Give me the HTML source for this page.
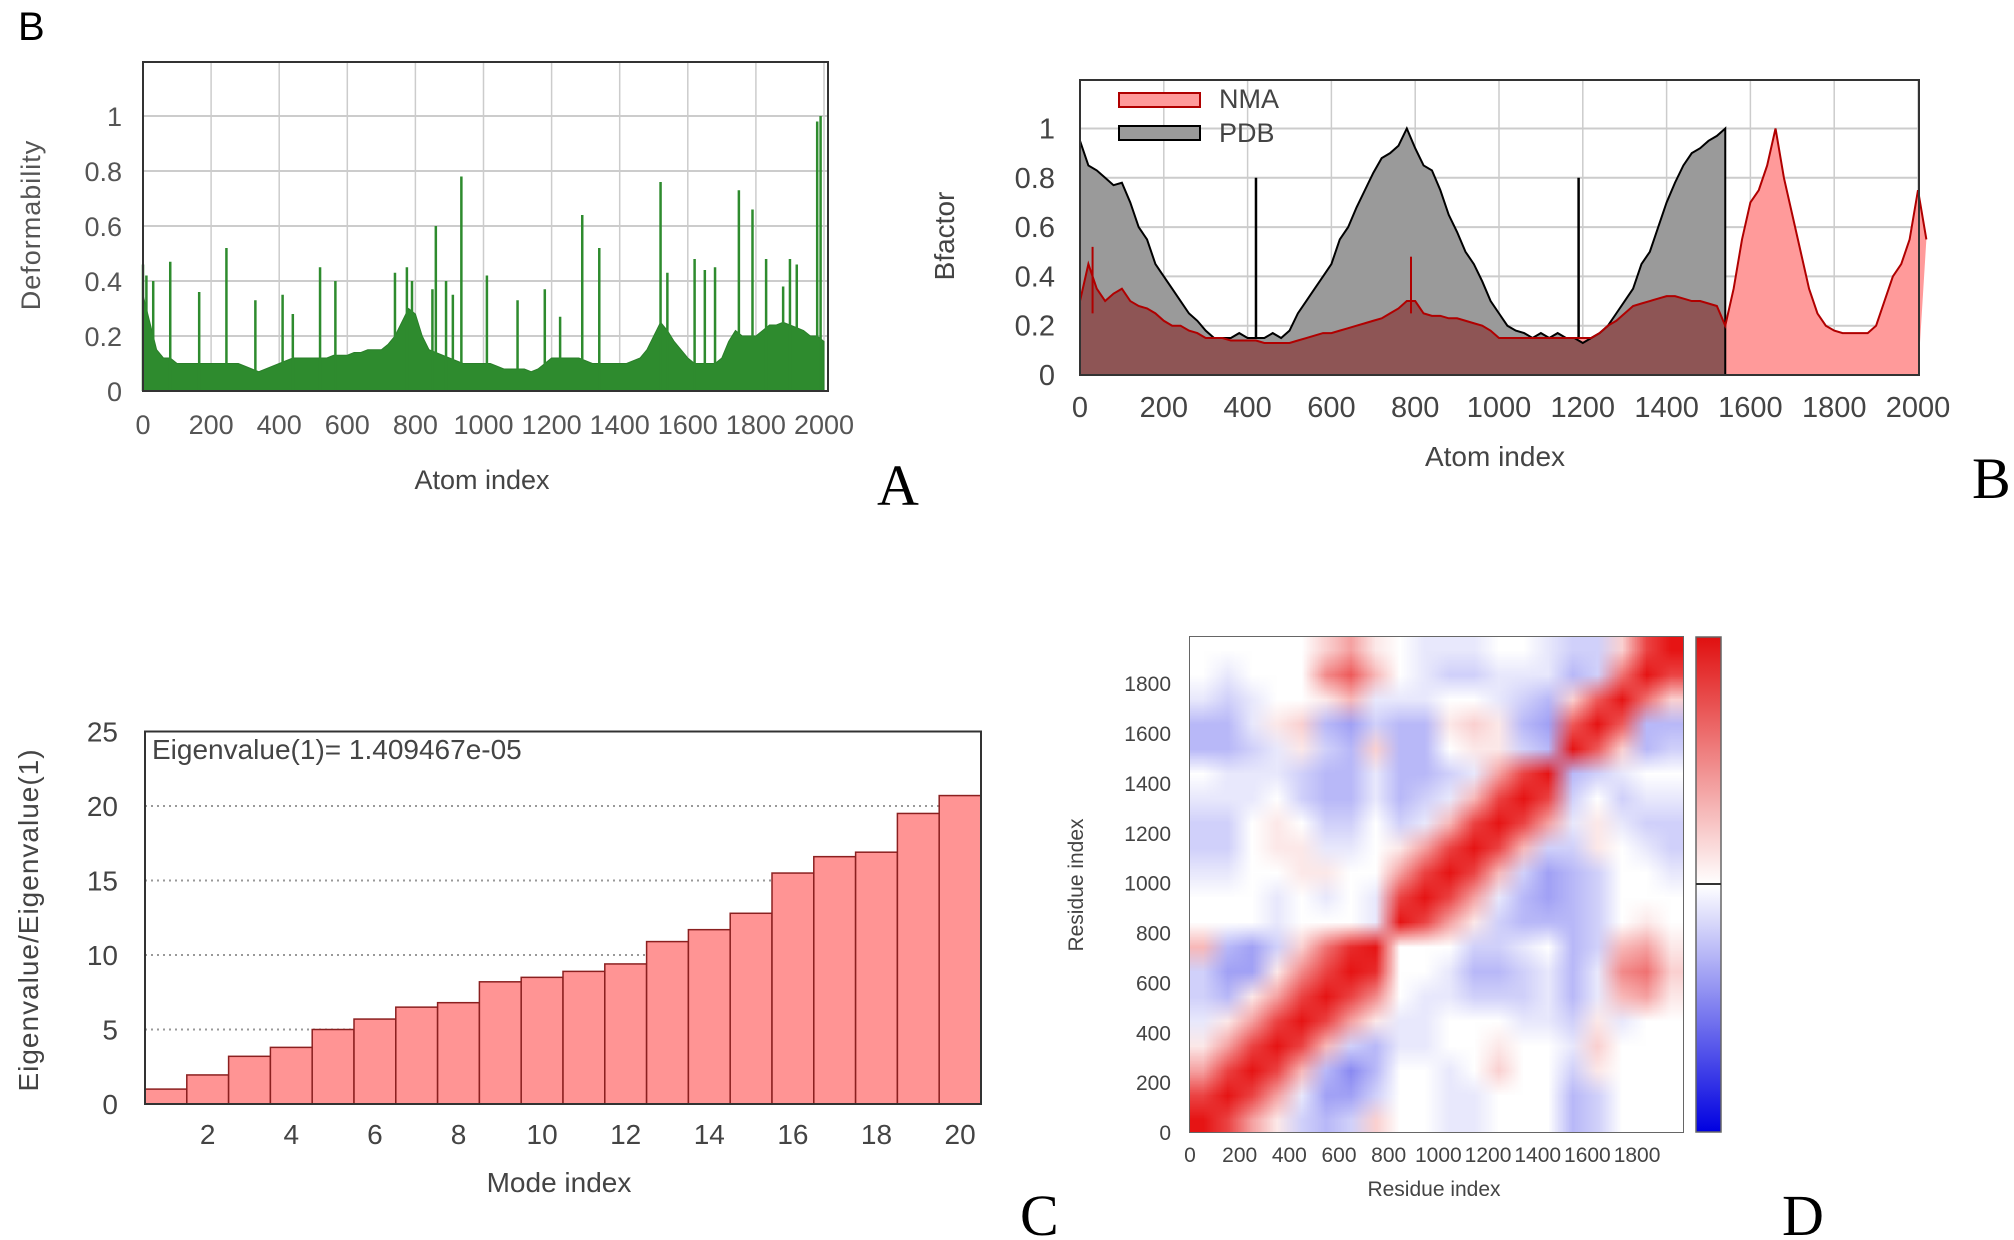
<!DOCTYPE html>
<html><head><meta charset="utf-8"><style>
html,body{margin:0;padding:0;background:#fff;}
#wrap{position:relative;width:2014px;height:1240px;overflow:hidden;}
svg{position:absolute;left:0;top:0;}
text{font-family:"Liberation Sans",sans-serif;}
#hm{position:absolute;left:1190px;top:637px;width:493px;height:495px;}
</style></head><body>
<div id="wrap">
<svg id="svg" width="2014" height="1240"></svg>
<canvas id="hm" width="20" height="20"></canvas>
</div>
<script>
// ---- Panel A data ----
const defBase = [.35,.25,.15,.12,.12,.1,.1,.1,.1,.1,.1,.1,.1,.1,.1,.09,.08,.07,.08,.09,.1,.11,.12,.12,.12,.12,.12,.12,.13,.13,.13,.14,.14,.15,.15,.15,.17,.2,.25,.3,.28,.2,.15,.14,.13,.12,.11,.1,.1,.1,.1,.1,.09,.08,.08,.08,.08,.07,.08,.1,.12,.12,.12,.12,.12,.11,.1,.1,.1,.1,.1,.1,.11,.12,.15,.2,.25,.22,.18,.15,.12,.1,.1,.1,.1,.12,.18,.22,.2,.2,.2,.22,.24,.24,.25,.24,.23,.22,.2,.2,.18];
const defSpikeX = [0,10,30,80,165,245,330,410,440,520,565,740,775,790,850,860,890,910,935,1010,1100,1180,1225,1290,1340,1520,1540,1620,1650,1680,1750,1790,1830,1880,1900,1920,1980,1990];
const defSpikeY = [.46,.42,.4,.47,.36,.52,.33,.35,.28,.45,.4,.43,.45,.4,.37,.6,.4,.35,.78,.42,.33,.37,.27,.64,.52,.76,.43,.48,.44,.45,.73,.66,.48,.38,.48,.46,.98,1.0];
const axTicksA = [0,200,400,600,800,1000,1200,1400,1600,1800,2000];
const ayTicksA = [0,0.2,0.4,0.6,0.8,1];
// ---- Panel B data ----
const pdbVals = [.95,.85,.83,.8,.77,.78,.7,.6,.55,.45,.4,.35,.3,.25,.22,.18,.15,.15,.15,.17,.15,.15,.15,.17,.15,.18,.25,.3,.35,.4,.45,.55,.6,.68,.75,.82,.88,.9,.93,1.0,.92,.85,.83,.75,.65,.58,.5,.45,.38,.3,.25,.2,.18,.17,.15,.17,.15,.17,.15,.15,.13,.15,.17,.2,.25,.3,.35,.45,.5,.6,.7,.78,.85,.9,.92,.95,.97,1.0];
const pdbSpikeX = [420,1190];
const pdbSpikeY = [.8,.8];
const nmaVals = [.3,.45,.35,.3,.33,.35,.3,.28,.27,.25,.22,.2,.2,.18,.17,.15,.15,.15,.14,.14,.14,.14,.13,.13,.13,.13,.14,.15,.16,.17,.17,.18,.19,.2,.21,.22,.23,.25,.27,.3,.3,.25,.24,.24,.23,.23,.22,.21,.2,.18,.15,.15,.15,.15,.15,.15,.15,.15,.15,.15,.15,.15,.17,.2,.22,.25,.28,.29,.3,.31,.32,.32,.31,.3,.3,.29,.28,.2,.35,.55,.7,.75,.85,1.0,.8,.65,.5,.35,.25,.2,.18,.17,.17,.17,.17,.2,.3,.4,.45,.55,.75,.55];
const nmaSpikeX = [30,790];
const nmaSpikeY = [.52,.48];
const bxTicks = [0,200,400,600,800,1000,1200,1400,1600,1800,2000];
const byTicks = [0,0.2,0.4,0.6,0.8,1];
// ---- Panel C data ----
const modes = [1,2,3,4,5,6,7,8,9,10,11,12,13,14,15,16,17,18,19,20];
const eigRatio = [1.0,1.95,3.2,3.8,5.0,5.7,6.5,6.8,8.2,8.5,8.9,9.4,10.9,11.7,12.8,15.5,16.6,16.9,19.5,20.7];
const cxTicks = [2,4,6,8,10,12,14,16,18,20];
const cyTicks = [0,5,10,15,20,25];
// ---- Panel D data (rows from residue 0 upward, bins of 100) ----
const corr = [
[1,.8,.4,.1,-.2,-.3,-.2,.2,0,0,-.1,-.1,0,0,0,-.3,-.2,0,0,0],
[.8,1,.8,.4,-.1,-.4,-.4,-.2,0,0,-.1,-.1,0,0,0,-.3,-.2,0,0,0],
[.4,.8,1,.8,.3,-.3,-.5,-.3,0,0,-.1,0,.2,0,0,-.2,.1,0,0,0],
[.1,.4,.8,1,.8,.3,-.2,-.3,-.1,-.1,0,0,.1,0,0,-.1,.2,0,0,0],
[-.1,.1,.4,.8,1,.8,.4,.1,-.1,-.1,0,0,0,-.1,-.1,-.2,.1,-.1,0,0],
[-.2,-.3,.1,.4,.8,1,.8,.5,0,-.1,-.1,-.2,-.2,-.2,-.1,-.3,-.1,.3,.4,.1],
[-.2,-.4,-.4,.1,.5,.8,1,.9,0,0,-.1,-.3,-.3,-.2,-.1,-.3,-.1,.5,.6,.2],
[.3,-.3,-.4,-.2,.2,.6,.9,1,0,0,0,-.2,-.2,-.1,0,-.3,-.2,.3,.4,.1],
[0,0,0,-.1,0,0,0,-.1,1,.8,.4,.1,-.2,-.3,-.3,-.3,-.2,0,.1,0],
[0,0,0,-.1,0,-.1,0,-.1,.8,1,.8,.4,-.1,-.3,-.4,-.3,-.2,0,0,0],
[-.1,-.1,0,0,.1,.1,0,0,.4,.8,1,.8,.3,-.2,-.4,-.3,-.2,0,0,-.1],
[-.2,-.2,0,.1,.1,-.1,-.1,0,.1,.4,.8,1,.8,.3,-.2,-.2,.1,0,-.1,-.2],
[-.2,-.2,0,.1,0,-.2,-.2,0,-.2,-.1,.3,.8,1,.8,.4,-.1,.1,-.1,-.2,-.2],
[-.1,-.1,-.1,0,-.2,-.3,-.3,-.1,-.3,-.2,-.1,.3,.8,1,.8,-.2,0,-.2,-.1,-.1],
[0,-.1,-.1,-.1,-.2,-.3,-.3,-.1,-.3,-.3,-.2,-.1,.4,.8,1,-.3,-.2,-.1,0,0],
[-.3,-.3,-.2,-.1,.1,-.2,-.3,.2,-.3,-.3,0,.1,.1,-.2,-.3,1,.7,.2,-.3,-.2],
[-.3,-.3,-.1,.1,.2,-.3,-.4,-.2,-.3,-.3,.1,.2,.1,-.3,-.4,.7,1,.7,-.3,-.3],
[-.1,-.2,-.1,0,0,.1,.3,-.1,-.1,-.1,0,0,-.1,-.2,-.3,.2,.7,1,.6,.2],
[0,-.1,0,0,0,.5,.7,.3,0,-.1,-.2,-.2,-.1,-.1,-.1,-.3,-.2,.6,1,.8],
[0,0,0,0,0,.2,.4,.1,0,-.1,-.1,-.1,0,0,-.1,-.2,-.2,.2,.8,1]];
const dTicks = [0,200,400,600,800,1000,1200,1400,1600,1800];

const NS="http://www.w3.org/2000/svg";
const svg=document.getElementById('svg');
function mk(tag,attrs,parent){const e=document.createElementNS(NS,tag);for(const k in attrs)e.setAttribute(k,attrs[k]);(parent||svg).appendChild(e);return e;}
function txt(s,x,y,attrs,parent){const e=mk('text',Object.assign({x:x,y:y},attrs),parent);e.textContent=s;return e;}
function g(name){const e=mk('g',{});return e;}

const SERIF='font-family:"Liberation Serif",serif';
let L;
L=txt('B',18,40,{'font-size':40,fill:'#000'});
L=txt('A',877,505,{'font-size':58,style:SERIF,fill:'#000'});
L=txt('B',1972,498,{'font-size':58,style:SERIF,fill:'#000'});
L=txt('C',1020,1235,{'font-size':58,style:SERIF,fill:'#000'});
L=txt('D',1782,1235,{'font-size':58,style:SERIF,fill:'#000'});

// ===== Panel A =====
(function(){
 const x0=143,x1=828,yb=391,yt=62;
 const X=v=>x0+(v/2000)*(824-143);
 const Y=v=>yb-v*275;
 const G=g('deformability-chart');
 axTicksA.forEach(t=>{const l=mk('line',{x1:X(t),x2:X(t),y1:yt,y2:yb,stroke:'#ccc','stroke-width':1.5},G);
   const tl=txt(String(t),X(t),434,{'font-size':27,fill:'#555','text-anchor':'middle'},G);});
 ayTicksA.forEach(t=>{const l=mk('line',{x1:x0,x2:x1,y1:Y(t),y2:Y(t),stroke:'#ccc','stroke-width':2},G);
   const tl=txt(String(t),122,Y(t)+10,{'font-size':27,fill:'#555','text-anchor':'end'},G);});
 let d='M'+X(0)+','+Y(0);
 defBase.forEach((v,i)=>{d+=' L'+X(i*20)+','+Y(v);});
 d+=' L'+X(2000)+','+Y(0)+' Z';
 const a=mk('path',{d:d,fill:'#2e8b2e',stroke:'#2a7f2a','stroke-width':1},G);
 defSpikeX.forEach((sx,i)=>{const s=mk('line',{x1:X(sx),x2:X(sx),y1:Y(0),y2:Y(defSpikeY[i]),stroke:'#2e8b2e','stroke-width':2.5},G);});
 const r=mk('rect',{x:x0,y:yt,width:x1-x0,height:yb-yt,fill:'none',stroke:'#333','stroke-width':2},G);
 const xt=txt('Atom index',482,489,{'font-size':27,fill:'#444','text-anchor':'middle'},G);
 const yl=txt('Deformability',0,0,{'font-size':27,fill:'#555','text-anchor':'middle','letter-spacing':1,transform:'translate(40,225) rotate(-90)'},G);
})();

// ===== Panel B =====
(function(){
 const x0=1080,x1=1919,yb=375,yt=80;
 const X=v=>x0+(v/2000)*(1918-1080);
 const Y=v=>yb-v*246.5;
 const G=g('bfactor-chart');
 bxTicks.forEach(t=>{const l=mk('line',{x1:X(t),x2:X(t),y1:yt,y2:yb,stroke:'#ccc','stroke-width':1.5},G);
   const tl=txt(String(t),X(t),417,{'font-size':29,fill:'#444','text-anchor':'middle'},G);});
 byTicks.forEach(t=>{const l=mk('line',{x1:x0,x2:x1,y1:Y(t),y2:Y(t),stroke:'#ccc','stroke-width':2},G);
   const tl=txt(String(t),1055,Y(t)+10,{'font-size':29,fill:'#444','text-anchor':'end'},G);});
 let pl='';pdbVals.forEach((v,i)=>{pl+=(i?' L':'M')+X(i*20)+','+Y(v);});
 const pdbArea='M'+X(0)+','+Y(0)+' '+pl.replace('M','L')+' L'+X(1540)+','+Y(0)+' Z';
 let nl='';nmaVals.forEach((v,i)=>{nl+=(i?' L':'M')+X(i*20)+','+Y(v);});
 const nmaArea='M'+X(0)+','+Y(0)+' '+nl.replace('M','L')+' L'+X(2000)+','+Y(0)+' Z';
 const defs=mk('defs',{},G);const cp=mk('clipPath',{id:'pdbclip'},defs);mk('path',{d:pdbArea},cp);
 const pa=mk('path',{d:pdbArea,fill:'#9a9a9a'},G);
 const na=mk('path',{d:nmaArea,fill:'#ff9a9a'},G);
 const ov=mk('path',{d:nmaArea,fill:'#8e5555','clip-path':'url(#pdbclip)'},G);
 const pln=mk('path',{d:pl+' L'+X(1540)+','+Y(0),fill:'none',stroke:'#000','stroke-width':2},G);
 pdbSpikeX.forEach((sx,i)=>{const s=mk('line',{x1:X(sx),x2:X(sx),y1:Y(0.15),y2:Y(pdbSpikeY[i]),stroke:'#000','stroke-width':2.5},G);});
 const nln=mk('path',{d:nl,fill:'none',stroke:'#b00000','stroke-width':2},G);
 nmaSpikeX.forEach((sx,i)=>{const s=mk('line',{x1:X(sx),x2:X(sx),y1:Y(0.25),y2:Y(nmaSpikeY[i]),stroke:'#b00000','stroke-width':2},G);});
 const r=mk('rect',{x:x0,y:yt,width:x1-x0,height:yb-yt,fill:'none',stroke:'#333','stroke-width':2},G);
 let e=mk('rect',{x:1119,y:93,width:81,height:14,fill:'#ff9a9a',stroke:'#b00000','stroke-width':2},G);
 e=txt('NMA',1219,108,{'font-size':27,fill:'#444'},G);
 e=mk('rect',{x:1119,y:126,width:81,height:14,fill:'#9a9a9a',stroke:'#000','stroke-width':2},G);
 e=txt('PDB',1219,142,{'font-size':27,fill:'#444'},G);
 e=txt('Atom index',1495,466,{'font-size':28,fill:'#444','text-anchor':'middle'},G);
 e=txt('Bfactor',0,0,{'font-size':28,fill:'#444','text-anchor':'middle',transform:'translate(954,236) rotate(-90)'},G);
})();

// ===== Panel C =====
(function(){
 const x0=145,x1=981,yb=1104,yt=731.5;
 const X=v=>x0+(v-0.5)*(x1-x0)/20;
 const Y=v=>yb-v*14.9;
 const G=g('eigenvalue-chart');
 cyTicks.forEach(t=>{if(t>0&&t<25){const l=mk('line',{x1:x0,x2:x1,y1:Y(t),y2:Y(t),stroke:'#999','stroke-width':2,'stroke-dasharray':'2,4'},G);}
   const tl=txt(String(t),118,Y(t)+10,{'font-size':28,fill:'#444','text-anchor':'end'},G);});
 modes.forEach((m,i)=>{const b=mk('rect',{x:X(m-0.5),y:Y(eigRatio[i]),width:X(m+0.5)-X(m-0.5),height:Y(0)-Y(eigRatio[i]),fill:'#ff9494',stroke:'#8b2020','stroke-width':1.5},G);});
 cxTicks.forEach(t=>{const tl=txt(String(t),X(t),1144,{'font-size':28,fill:'#444','text-anchor':'middle'},G);});
 const r=mk('rect',{x:x0,y:yt,width:x1-x0,height:yb-yt,fill:'none',stroke:'#333','stroke-width':2},G);
 let e=txt('Eigenvalue(1)= 1.409467e-05',152,759,{'font-size':28,fill:'#444'},G);
 e=txt('Mode index',559,1192,{'font-size':28,fill:'#444','text-anchor':'middle'},G);
 e=txt('Eigenvalue/Eigenvalue(1)',0,0,{'font-size':28,fill:'#444','text-anchor':'middle','letter-spacing':1,transform:'translate(38,920) rotate(-90)'},G);
})();

// ===== Panel D =====
(function(){
 const x0=1190,x1=1683,yt=637,yb=1132,N=1985;
 const X=v=>x0+v*(x1-x0)/N;
 const Y=v=>yb-v*(yb-yt)/N;
 const G=g('correlation-chart');
 const cv=document.getElementById('hm');const ctx=cv.getContext('2d');
 const img=ctx.createImageData(20,20);
 function col(v){if(v>=0)return [255-v*25,255-v*235,255-v*235];const a=-v;return [255-a*235,255-a*235,255-a*25];}
 corr.forEach((row,ri)=>row.forEach((v,ci)=>{const c=col(v);const p=((19-ri)*20+ci)*4;img.data[p]=c[0];img.data[p+1]=c[1];img.data[p+2]=c[2];img.data[p+3]=255;}));
 ctx.putImageData(img,0,0);
 cv.style.imageRendering='auto';
 const r=mk('rect',{x:x0,y:yt,width:x1-x0,height:yb-yt,fill:'none',stroke:'#666','stroke-width':2},G);
 dTicks.forEach(t=>{let e=txt(String(t),1171,Y(t)+8,{'font-size':21,fill:'#444','text-anchor':'end'},G);
   e=txt(String(t),X(t),1162,{'font-size':21,fill:'#444','text-anchor':'middle'},G);});
 const defs=mk('defs',{},G);const lg=mk('linearGradient',{id:'cbar',x1:0,y1:0,x2:0,y2:1},defs);
 mk('stop',{offset:'0',  'stop-color':'#e01010'},lg);mk('stop',{offset:'0.5','stop-color':'#ffffff'},lg);mk('stop',{offset:'1','stop-color':'#0000e0'},lg);
 let e=mk('rect',{x:1696,y:yt,width:25,height:yb-yt,fill:'url(#cbar)',stroke:'#666','stroke-width':1.5},G);
 e=mk('line',{x1:1696,x2:1721,y1:884,y2:884,stroke:'#333','stroke-width':2},G);
 e=txt('Residue index',1434,1196,{'font-size':21,fill:'#444','text-anchor':'middle'},G);
 e=txt('Residue index',0,0,{'font-size':21,fill:'#444','text-anchor':'middle',transform:'translate(1083,885) rotate(-90)'},G);
})();
</script>
</body></html>
